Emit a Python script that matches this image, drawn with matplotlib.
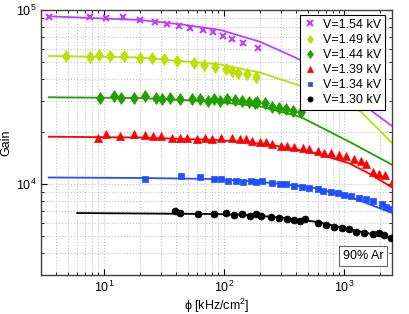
import matplotlib
matplotlib.use("Agg")
import matplotlib.pyplot as plt
from matplotlib.ticker import LogLocator, NullFormatter

plt.rcParams['font.family'] = ['Liberation Sans', 'DejaVu Sans']
plt.rcParams['mathtext.fontset'] = 'custom'
plt.rcParams['mathtext.rm'] = 'Liberation Sans'

# ---------------- data ----------------
labels = ["V=1.54 kV", "V=1.49 kV", "V=1.44 kV", "V=1.39 kV", "V=1.34 kV", "V=1.30 kV"]

phi_154 = [3.48, 7.64, 10.4, 14.4, 19.95, 26.6, 33.7, 42.5, 51.8, 66.5, 81.6, 98.1, 115.9, 145, 192]
gain_154 = [91500, 91500, 90300, 91200, 88000, 85000, 82700, 81200, 78800, 76400, 74400, 71100, 68400, 64900, 60200]

phi_149 = [4.89, 7.64, 9.08, 11.2, 14.6, 19.95, 25.3, 31.9, 40.6, 55.9, 68.1, 83.7, 103.3, 117.5, 130, 154.5, 183.6]
gain_149 = [54400, 53900, 55100, 54200, 54200, 53200, 52800, 52100, 51100, 49800, 48300, 47000, 45600, 44400, 43600, 42700, 41200]

phi_144 = [9.26, 12.1, 14.0, 17.9, 22.0, 27.1, 30.7, 35.5, 42.7, 54.5, 63.1, 73.1, 82.5, 92.1,
           106.7, 123.5, 142.3, 161.6, 181.3, 189.8, 219.7, 249.7, 287.3, 326.8, 375.8, 435.6]
gain_144 = [31330, 32040, 31200, 31330, 32040, 31330, 30790, 31330, 30790, 30790, 30670, 30100, 30670, 29870,
            30790, 30400, 29990, 29470, 29090, 29720, 29090, 27810, 27440, 26980, 26380, 26030]

phi_139 = [8.98, 10.4, 13.6, 17.9, 22.0, 25.6, 29.7, 36.7, 42.7, 49.5, 59.2, 69.1, 80.1, 93.9,
           115.9, 135.1, 153.7, 172.5, 198.4, 222.6, 253.1, 296.8, 333.1, 383.1, 455.3, 510.9,
           600.2, 681.3, 774.9, 898.2, 1033, 1211, 1378, 1516, 1735, 1946, 2184, 2531]
gain_139 = [18310, 19300, 18870, 19300, 19120, 18870, 18870, 18460, 18460, 18460, 18070, 18460, 18070, 18310,
            18310, 18140, 18140, 17670, 17510, 17370, 16910, 16600, 16600, 16380, 16170, 15890,
            15540, 15130, 15010, 14680, 14480, 13920, 13560, 13030, 11720, 11410, 11260, 10440]

phi_134 = [22.0, 43.6, 63.1, 82.5, 93.9, 108.8, 125.2, 144, 166.9, 186.2, 206.2, 253.1, 291.2, 331.1,
           383.1, 441.6, 510.9, 600.2, 660.7, 774.9, 881, 1000, 1137, 1334, 1516, 1745, 2050, 2226, 2450]
gain_134 = [10680, 11120, 10930, 10680, 10640, 10440, 10400, 10230, 10400, 10230, 10400, 10090, 10000, 10000,
            9780, 9650, 9520, 9320, 9120, 9030, 8840, 8640, 8530, 8270, 8170, 7990, 7640, 7350, 7160]

phi_130 = [39.1, 43.0, 61.2, 82.5, 103.3, 121.1, 142.3, 164.7, 186.2, 205, 245, 287.3, 333.1, 383.1,
           429.9, 473.2, 600.2, 703.9, 825.4, 956.8, 1101, 1252, 1468, 1725, 1935, 2154, 2450]
gain_130 = [7000, 6840, 6700, 6700, 6790, 6640, 6700, 6550, 6720, 6550, 6490, 6400, 6270, 6210,
            6150, 6270, 5940, 5810, 5680, 5560, 5490, 5320, 5210, 5140, 5250, 5090, 4870]

# fit curves (read as points along each line)
fit_phi_154 = [3.48, 20.2, 43.5, 93.9, 202, 435, 938.7, 1725, 2546]
fit_gain_154 = [92000, 87600, 82750, 76700, 65500, 51600, 37560, 26030, 21350]

fit_phi_149 = [3.48, 20.2, 93.9, 202, 435, 938.7, 1378, 2560]
fit_gain_149 = [54400, 53330, 48620, 43620, 36580, 29220, 26030, 16980]

fit_phi_144 = [3.48, 20.2, 85.2, 202, 435, 1101, 2531]
fit_gain_144 = [31500, 31200, 29720, 27880, 24270, 17510, 12860]

fit_phi_139 = [3.48, 20.2, 85.2, 161.6, 306.7, 581.1, 1101, 1669, 2546]
fit_gain_139 = [18700, 18500, 17900, 17370, 16380, 15010, 13150, 11340, 9480]

fit_phi_134 = [3.48, 20.2, 85.2, 161.6, 306.7, 581.1, 1101, 2531]
fit_gain_134 = [10900, 10830, 10680, 10400, 10000, 9450, 8450, 6810]

fit_phi_130 = [6.0, 20.2, 85.2, 161.6, 306.7, 581.1, 1101, 2546]
fit_gain_130 = [6810, 6770, 6720, 6640, 6400, 6070, 5510, 4850]

# ---------------- styling ----------------
colors = ['#bf40ff', '#bde000', '#1fa000', '#ff0000', '#1f4fff', '#000000']
markers = ['x', 'd', 'd', '^', 's', 'o']
msizes = [5, 6, 6, 5.5, 4.5, 5]

series = [(phi_154, gain_154, fit_phi_154, fit_gain_154),
          (phi_149, gain_149, fit_phi_149, fit_gain_149),
          (phi_144, gain_144, fit_phi_144, fit_gain_144),
          (phi_139, gain_139, fit_phi_139, fit_gain_139),
          (phi_134, gain_134, fit_phi_134, fit_gain_134),
          (phi_130, gain_130, fit_phi_130, fit_gain_130)]

fig = plt.figure(figsize=(4.09, 3.14), dpi=100)
ax = fig.add_axes([0.1002, 0.1242, 0.8582, 0.844])

handles = []
for (px, gy, fx, fy), c, m, ms, lab in zip(series, colors, markers, msizes, labels):
    ax.plot(fx, fy, '-', color=c, lw=1.3, zorder=2)
    h, = ax.plot(px, gy, linestyle='none', marker=m, color=c, ms=ms,
                 mew=1.5 if m == 'x' else 0.5, label=lab, zorder=3)
    handles.append(h)

ax.set_xscale('log')
ax.set_yscale('log')
ax.set_xlim(3, 2500)
ax.set_ylim(3000, 1e5)

ax.xaxis.set_major_locator(LogLocator(base=10, numticks=10))
ax.xaxis.set_minor_locator(LogLocator(base=10, subs=range(2, 10), numticks=20))
ax.yaxis.set_major_locator(LogLocator(base=10, numticks=10))
ax.yaxis.set_minor_locator(LogLocator(base=10, subs=range(2, 10), numticks=20))
ax.xaxis.set_minor_formatter(NullFormatter())
ax.yaxis.set_minor_formatter(NullFormatter())

ax.grid(True, which='both', linestyle=':', color='#c4c4c4', lw=0.8)
ax.tick_params(which='both', direction='in', top=True, right=True, labelsize=9)
ax.tick_params(which='major', length=4)
ax.tick_params(which='minor', length=2)
for s in ax.spines.values():
    s.set_color('#404040')
    s.set_linewidth(1.0)

ax.set_xlabel('ϕ [kHz/cm$^2$]', fontsize=9, labelpad=1)
ax.set_ylabel('Gain', fontsize=9, labelpad=2)

leg = ax.legend(handles=handles, loc='upper right', fontsize=9, frameon=True, fancybox=False,
                framealpha=1, edgecolor='black', handlelength=1.0, handletextpad=0.5,
                borderpad=0.3, labelspacing=0.25, markerscale=0.75, borderaxespad=0,
                bbox_to_anchor=(0.98, 0.981))
leg.get_frame().set_linewidth(0.8)

ax.text(0.975, 0.05, '90% Ar', transform=ax.transAxes, ha='right', va='bottom', fontsize=9,
        bbox=dict(boxstyle='square,pad=0.3', fc='white', ec='#666666', lw=0.8))

fig.savefig('out.png', dpi=100)
